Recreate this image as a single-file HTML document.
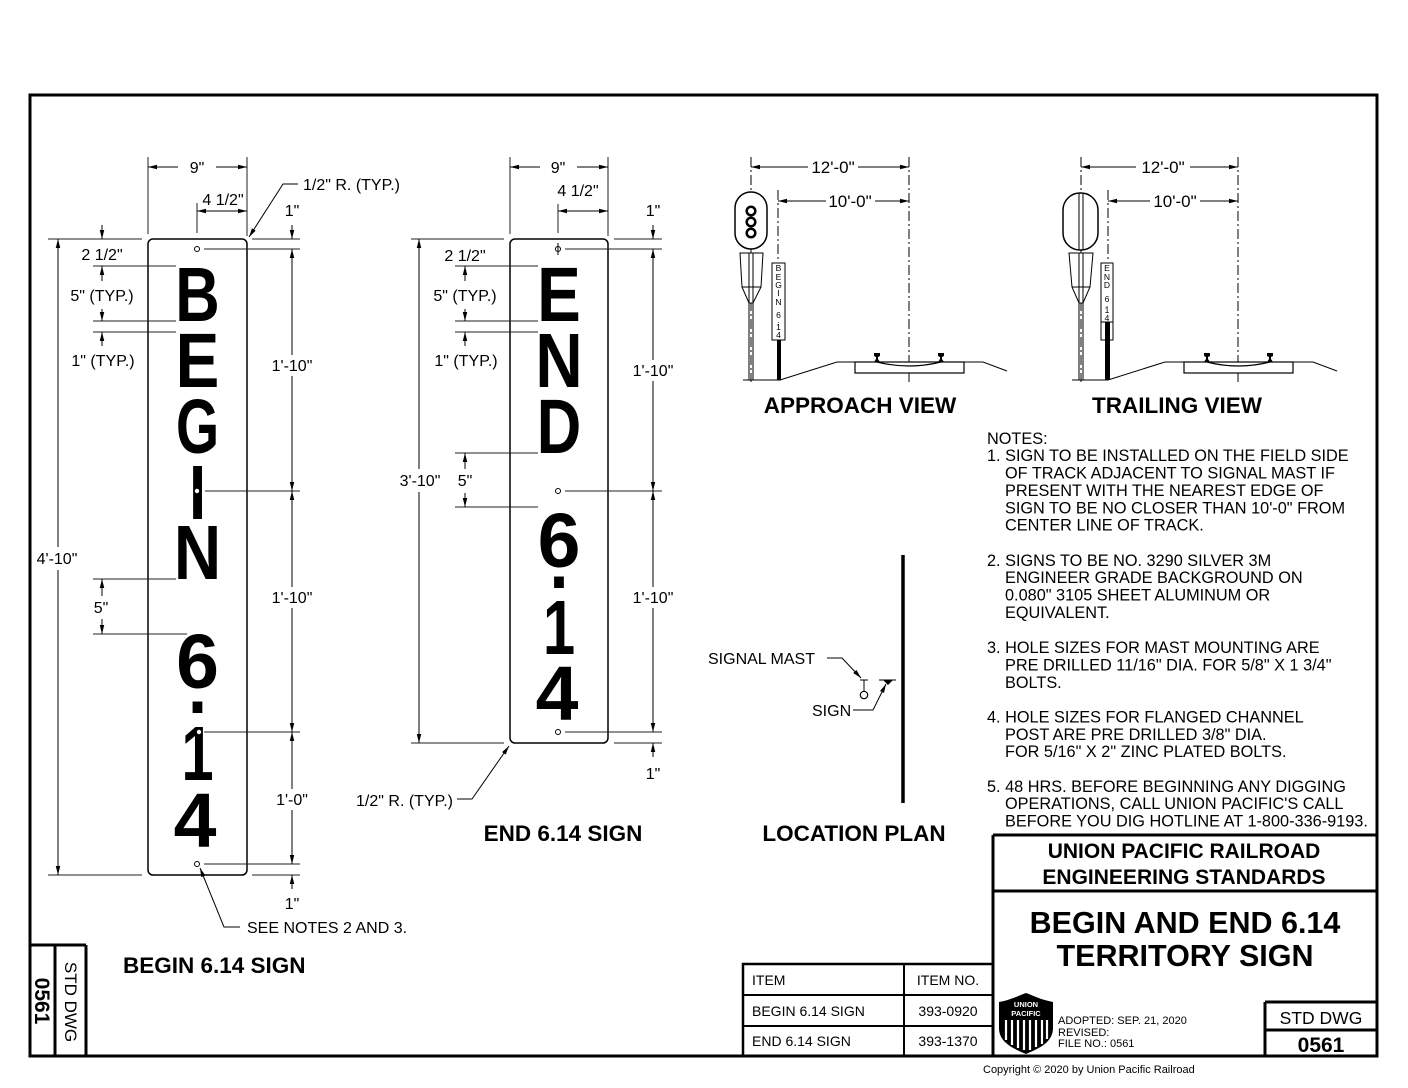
<!DOCTYPE html>
<html><head><meta charset="utf-8"><style>
html,body{margin:0;padding:0;background:#fff;}
svg{display:block;}
text{font-family:"Liberation Sans",Arial,sans-serif;fill:#000;}
.d{font-size:16px;}
.c{text-anchor:middle;}
.b{font-weight:bold;}
.ln{stroke:#000;stroke-width:1;fill:none;}
.ex{stroke:#222;stroke-width:1;fill:none;}
.cl{stroke:#000;stroke-width:1;fill:none;stroke-dasharray:10,3,2,3;}
.big{font-weight:bold;font-size:77px;text-anchor:middle;}
.sm{font-size:8.5px;text-anchor:middle;}
</style></head><body>
<svg width="1408" height="1088" viewBox="0 0 1408 1088" xmlns="http://www.w3.org/2000/svg">
<defs>
<marker id="a" viewBox="0 0 10 5" refX="10" refY="2.5" markerWidth="9" markerHeight="5" markerUnits="userSpaceOnUse" orient="auto-start-reverse"><path d="M0,0L10,2.5L0,5z" fill="#000"/></marker>
</defs>
<rect width="1408" height="1088" fill="#fff"/>
<!-- frame -->
<rect x="30" y="95" width="1347" height="961" fill="none" stroke="#000" stroke-width="3"/>

<!-- ================= BEGIN SIGN ================= -->
<rect x="148" y="239" width="99" height="636" rx="5" fill="none" stroke="#000" stroke-width="1.5"/>
<text class="big" transform="translate(197.5,321) scale(0.8,1)">B</text>
<text class="big" transform="translate(197.5,387) scale(0.85,1)">E</text>
<text class="big" transform="translate(197.5,453) scale(0.72,1)">G</text>
<text class="big" transform="translate(197.5,519) scale(0.8,1)">I</text>
<text class="big" transform="translate(197.5,579) scale(0.85,1)">N</text>
<text class="big" transform="translate(197.5,688) scale(1,1)">6</text>
<text class="big" transform="translate(197.5,713) scale(0.9,1)">.</text>
<text class="big" transform="translate(197.5,780) scale(0.75,1)">1</text>
<text class="big" transform="translate(195,847) scale(1,1)">4</text>
<circle cx="197" cy="249" r="2.5" fill="#fff" stroke="#000" stroke-width="1"/>
<circle cx="197" cy="864" r="2.5" fill="#fff" stroke="#000" stroke-width="1"/>
<circle cx="197" cy="491" r="2.2" fill="#fff"/>
<circle cx="199" cy="732" r="2.2" fill="#fff"/>
<line class="ex" x1="148" y1="157" x2="148" y2="234"/>
<line class="ex" x1="247" y1="157" x2="247" y2="236"/>
<line class="ex" x1="197" y1="203" x2="197" y2="233"/>
<line class="ln" x1="178" y1="167" x2="148" y2="167" marker-end="url(#a)"/>
<line class="ln" x1="216" y1="167" x2="247" y2="167" marker-end="url(#a)"/>
<text class="d c" x="197" y="173">9"</text>
<line class="ln" x1="197" y1="211" x2="247" y2="211" marker-start="url(#a)" marker-end="url(#a)"/>
<text class="d c" x="223" y="205">4 1/2"</text>
<polyline class="ln" points="298,184 283,184 249,237" marker-end="url(#a)"/>
<text class="d" x="303" y="190">1/2" R. (TYP.)</text>
<line class="ex" x1="252" y1="239" x2="300" y2="239"/>
<line class="ex" x1="204" y1="249" x2="300" y2="249"/>
<line class="ex" x1="205" y1="491" x2="300" y2="491"/>
<line class="ex" x1="204" y1="732" x2="300" y2="732"/>
<line class="ex" x1="204" y1="864" x2="300" y2="864"/>
<line class="ex" x1="252" y1="875" x2="300" y2="875"/>
<text class="d c" x="292" y="216">1"</text>
<line class="ln" x1="292" y1="225" x2="292" y2="239" marker-end="url(#a)"/>
<line class="ln" x1="292" y1="355" x2="292" y2="249" marker-end="url(#a)"/>
<line class="ln" x1="292" y1="376" x2="292" y2="491" marker-end="url(#a)"/>
<text class="d c" x="292" y="371">1'-10"</text>
<line class="ln" x1="292" y1="587" x2="292" y2="491" marker-end="url(#a)"/>
<line class="ln" x1="292" y1="608" x2="292" y2="732" marker-end="url(#a)"/>
<text class="d c" x="292" y="603">1'-10"</text>
<line class="ln" x1="292" y1="789" x2="292" y2="732" marker-end="url(#a)"/>
<line class="ln" x1="292" y1="810" x2="292" y2="864" marker-end="url(#a)"/>
<text class="d c" x="292" y="805">1'-0"</text>
<line class="ln" x1="292" y1="889" x2="292" y2="875" marker-end="url(#a)"/>
<text class="d c" x="292" y="909">1"</text>
<line class="ex" x1="48" y1="239" x2="142" y2="239"/>
<line class="ex" x1="48" y1="875" x2="142" y2="875"/>
<line class="ln" x1="58" y1="547" x2="58" y2="239" marker-end="url(#a)"/>
<line class="ln" x1="58" y1="570" x2="58" y2="875" marker-end="url(#a)"/>
<text class="d c" x="57" y="564">4'-10"</text>
<line class="ex" x1="93" y1="266" x2="176" y2="266"/>
<line class="ex" x1="93" y1="321" x2="176" y2="321"/>
<line class="ex" x1="93" y1="332" x2="176" y2="332"/>
<line class="ex" x1="93" y1="579" x2="176" y2="579"/>
<line class="ex" x1="93" y1="634" x2="187" y2="634"/>
<line class="ln" x1="102" y1="225" x2="102" y2="239" marker-end="url(#a)"/>
<text class="d c" x="102" y="260">2 1/2"</text>
<line class="ln" x1="102" y1="281" x2="102" y2="266" marker-end="url(#a)"/>
<line class="ln" x1="102" y1="309" x2="102" y2="321" marker-end="url(#a)"/>
<text class="d c" x="102" y="301">5" (TYP.)</text>
<line class="ln" x1="102" y1="346" x2="102" y2="332" marker-end="url(#a)"/>
<text class="d c" x="103" y="366">1" (TYP.)</text>
<line class="ln" x1="102" y1="596" x2="102" y2="579" marker-end="url(#a)"/>
<line class="ln" x1="102" y1="619" x2="102" y2="634" marker-end="url(#a)"/>
<text class="d c" x="101" y="613">5"</text>
<polyline class="ln" points="240,927 224,927 200,868" marker-end="url(#a)"/>
<text class="d" x="247" y="933">SEE NOTES 2 AND 3.</text>
<text class="b" x="123" y="973" font-size="22.5">BEGIN 6.14 SIGN</text>

<!-- ================= END SIGN ================= -->
<rect x="510" y="239" width="98" height="504" rx="5" fill="none" stroke="#000" stroke-width="1.5"/>
<text class="big" transform="translate(559,321) scale(0.85,1)">E</text>
<text class="big" transform="translate(559,387) scale(0.85,1)">N</text>
<text class="big" transform="translate(559,453) scale(0.8,1)">D</text>
<text class="big" transform="translate(559,567) scale(1,1)">6</text>
<text class="big" transform="translate(559,588) scale(0.9,1)">.</text>
<text class="big" transform="translate(559,654) scale(0.75,1)">1</text>
<text class="big" transform="translate(557,720) scale(1,1)">4</text>
<circle cx="558" cy="249" r="2.5" fill="#fff" stroke="#000" stroke-width="1"/>
<line class="ln" x1="558" y1="243" x2="558" y2="255"/>
<circle cx="558" cy="491" r="2.5" fill="#fff" stroke="#000" stroke-width="1"/>
<circle cx="558" cy="732" r="2.5" fill="#fff" stroke="#000" stroke-width="1"/>
<line class="ex" x1="510" y1="157" x2="510" y2="234"/>
<line class="ex" x1="608" y1="157" x2="608" y2="236"/>
<line class="ex" x1="558" y1="204" x2="558" y2="233"/>
<line class="ln" x1="540" y1="167" x2="510" y2="167" marker-end="url(#a)"/>
<line class="ln" x1="577" y1="167" x2="608" y2="167" marker-end="url(#a)"/>
<text class="d c" x="558" y="173">9"</text>
<line class="ln" x1="558" y1="211" x2="608" y2="211" marker-start="url(#a)" marker-end="url(#a)"/>
<text class="d c" x="578" y="196">4 1/2"</text>
<line class="ex" x1="614" y1="239" x2="662" y2="239"/>
<line class="ex" x1="565" y1="249" x2="662" y2="249"/>
<line class="ex" x1="565" y1="491" x2="662" y2="491"/>
<line class="ex" x1="565" y1="732" x2="662" y2="732"/>
<line class="ex" x1="614" y1="743" x2="662" y2="743"/>
<text class="d c" x="653" y="216">1"</text>
<line class="ln" x1="653" y1="225" x2="653" y2="239" marker-end="url(#a)"/>
<line class="ln" x1="653" y1="360" x2="653" y2="249" marker-end="url(#a)"/>
<line class="ln" x1="653" y1="381" x2="653" y2="491" marker-end="url(#a)"/>
<text class="d c" x="653" y="376">1'-10"</text>
<line class="ln" x1="653" y1="587" x2="653" y2="491" marker-end="url(#a)"/>
<line class="ln" x1="653" y1="608" x2="653" y2="732" marker-end="url(#a)"/>
<text class="d c" x="653" y="603">1'-10"</text>
<line class="ln" x1="653" y1="757" x2="653" y2="743" marker-end="url(#a)"/>
<text class="d c" x="653" y="779">1"</text>
<line class="ex" x1="411" y1="239" x2="504" y2="239"/>
<line class="ex" x1="411" y1="743" x2="504" y2="743"/>
<line class="ln" x1="419" y1="469" x2="419" y2="239" marker-end="url(#a)"/>
<line class="ln" x1="419" y1="492" x2="419" y2="743" marker-end="url(#a)"/>
<text class="d c" x="420" y="486">3'-10"</text>
<line class="ex" x1="455" y1="266" x2="538" y2="266"/>
<line class="ex" x1="455" y1="321" x2="538" y2="321"/>
<line class="ex" x1="455" y1="332" x2="538" y2="332"/>
<line class="ex" x1="455" y1="453" x2="538" y2="453"/>
<line class="ex" x1="455" y1="507" x2="538" y2="507"/>
<text class="d c" x="465" y="261">2 1/2"</text>
<line class="ln" x1="465" y1="281" x2="465" y2="266" marker-end="url(#a)"/>
<line class="ln" x1="465" y1="309" x2="465" y2="321" marker-end="url(#a)"/>
<text class="d c" x="465" y="301">5" (TYP.)</text>
<line class="ln" x1="465" y1="346" x2="465" y2="332" marker-end="url(#a)"/>
<text class="d c" x="466" y="366">1" (TYP.)</text>
<line class="ln" x1="465" y1="469" x2="465" y2="453" marker-end="url(#a)"/>
<line class="ln" x1="465" y1="493" x2="465" y2="507" marker-end="url(#a)"/>
<text class="d c" x="465" y="486">5"</text>
<polyline class="ln" points="457,799 472,799 509,746" marker-end="url(#a)"/>
<text class="d" x="453" y="806" text-anchor="end">1/2" R. (TYP.)</text>
<text class="b c" x="563" y="841" font-size="22.5">END 6.14 SIGN</text>

<!-- ================= APPROACH VIEW ================= -->
<line class="cl" x1="751" y1="157" x2="751" y2="382"/>
<line class="cl" x1="909" y1="157" x2="909" y2="382"/>
<line class="cl" x1="778" y1="190" x2="778" y2="262"/>
<line class="ln" x1="808" y1="167" x2="751" y2="167" marker-end="url(#a)"/>
<line class="ln" x1="858" y1="167" x2="909" y2="167" marker-end="url(#a)"/>
<text class="c" x="833" y="173" font-size="17">12'-0"</text>
<line class="ln" x1="826" y1="201" x2="778" y2="201" marker-end="url(#a)"/>
<line class="ln" x1="875" y1="201" x2="909" y2="201" marker-end="url(#a)"/>
<text class="c" x="850" y="207" font-size="17">10'-0"</text>
<rect x="735" y="192" width="32" height="57" rx="16" fill="#fff" stroke="#000" stroke-width="1.5"/>
<g fill="#fff" stroke="#000" stroke-width="2.5">
<circle cx="751" cy="211" r="4.3"/><circle cx="751" cy="222" r="4.3"/><circle cx="751" cy="233" r="4.3"/>
</g>
<polygon points="740,253 763,253 761,287 753,303 749,303 742,287" fill="#fff" stroke="#000" stroke-width="1"/>
<line class="ln" x1="742" y1="287" x2="761" y2="287"/>
<line class="ln" x1="749" y1="253" x2="749" y2="380"/>
<line class="ln" x1="753" y1="253" x2="753" y2="380"/>
<rect x="772" y="263" width="13" height="77" fill="#fff" stroke="#000" stroke-width="1"/>
<rect x="777" y="340" width="4" height="40" fill="#000"/>
<g class="sm">
<text x="778.5" y="271">B</text><text x="778.5" y="280">E</text><text x="778.5" y="288">G</text><text x="778.5" y="296">I</text><text x="778.5" y="305">N</text>
<text x="778.5" y="318">6</text><text x="778.5" y="323">.</text><text x="778.5" y="330">1</text><text x="778.5" y="338">4</text>
</g>
<polyline class="ln" points="743,380 780,380 837,362 983,362 1007,371" stroke-width="1.2"/>
<rect x="855" y="362" width="109" height="11" fill="#fff" stroke="#000" stroke-width="1.2"/>
<path d="M877,362 Q909,370 941,362" fill="none" stroke="#000" stroke-width="1.2"/>
<path d="M874,362 L880,362 L878,359 L878,357 L880,356 L880,353 L874,353 L874,356 L876,357 L876,359 Z" fill="#000"/>
<path d="M938,362 L944,362 L942,359 L942,357 L944,356 L944,353 L938,353 L938,356 L940,357 L940,359 Z" fill="#000"/>
<text class="b c" x="860" y="413" font-size="22.5">APPROACH VIEW</text>

<!-- ================= TRAILING VIEW ================= -->
<line class="cl" x1="1081" y1="157" x2="1081" y2="382"/>
<line class="cl" x1="1238" y1="157" x2="1238" y2="382"/>
<line class="cl" x1="1108" y1="190" x2="1108" y2="262"/>
<line class="ln" x1="1136" y1="167" x2="1081" y2="167" marker-end="url(#a)"/>
<line class="ln" x1="1190" y1="167" x2="1238" y2="167" marker-end="url(#a)"/>
<text class="c" x="1163" y="173" font-size="17">12'-0"</text>
<line class="ln" x1="1150" y1="201" x2="1108" y2="201" marker-end="url(#a)"/>
<line class="ln" x1="1200" y1="201" x2="1238" y2="201" marker-end="url(#a)"/>
<text class="c" x="1175" y="207" font-size="17">10'-0"</text>
<rect x="1063" y="193" width="35" height="57" rx="17" fill="#fff" stroke="#000" stroke-width="1.5"/>
<line class="ln" x1="1079" y1="193" x2="1079" y2="250"/>
<line class="ln" x1="1083" y1="193" x2="1083" y2="250"/>
<polygon points="1069,253 1093,253 1090,287 1083,303 1079,303 1072,287" fill="#fff" stroke="#000" stroke-width="1"/>
<line class="ln" x1="1072" y1="287" x2="1090" y2="287"/>
<line class="ln" x1="1079" y1="253" x2="1079" y2="380"/>
<line class="ln" x1="1083" y1="253" x2="1083" y2="380"/>
<rect x="1101" y="263" width="12" height="60" fill="#fff" stroke="#000" stroke-width="1"/>
<rect x="1101" y="322" width="12" height="18" fill="#fff" stroke="#000" stroke-width="1"/>
<rect x="1105" y="322" width="5" height="58" fill="#000"/>
<g class="sm">
<text x="1107" y="271">E</text><text x="1107" y="280">N</text><text x="1107" y="288">D</text>
<text x="1107" y="302">6</text><text x="1107" y="307">.</text><text x="1107" y="313">1</text><text x="1107" y="321">4</text>
</g>
<polyline class="ln" points="1072,380 1108,380 1165,362 1313,362 1337,371" stroke-width="1.2"/>
<rect x="1184" y="362" width="109" height="11" fill="#fff" stroke="#000" stroke-width="1.2"/>
<path d="M1207,362 Q1238,370 1270,362" fill="none" stroke="#000" stroke-width="1.2"/>
<path d="M1204,362 L1210,362 L1208,359 L1208,357 L1210,356 L1210,353 L1204,353 L1204,356 L1206,357 L1206,359 Z" fill="#000"/>
<path d="M1267,362 L1273,362 L1271,359 L1271,357 L1273,356 L1273,353 L1267,353 L1267,356 L1269,357 L1269,359 Z" fill="#000"/>
<text class="b c" x="1177" y="413" font-size="22.5">TRAILING VIEW</text>

<!-- ================= NOTES ================= -->
<g font-size="16.3">
<text x="987" y="444">NOTES:</text>
<text x="987" y="461">1. SIGN TO BE INSTALLED ON THE FIELD SIDE</text>
<text x="1005" y="478.5">OF TRACK ADJACENT TO SIGNAL MAST IF</text>
<text x="1005" y="496">PRESENT WITH THE NEAREST EDGE OF</text>
<text x="1005" y="513.5">SIGN TO BE NO CLOSER THAN 10'-0" FROM</text>
<text x="1005" y="530.5">CENTER LINE OF TRACK.</text>
<text x="987" y="566">2. SIGNS TO BE NO. 3290 SILVER 3M</text>
<text x="1005" y="583">ENGINEER GRADE BACKGROUND ON</text>
<text x="1005" y="600.5">0.080" 3105 SHEET ALUMINUM OR</text>
<text x="1005" y="618">EQUIVALENT.</text>
<text x="987" y="653">3. HOLE SIZES FOR MAST MOUNTING ARE</text>
<text x="1005" y="670.5">PRE DRILLED 11/16" DIA. FOR 5/8" X 1 3/4"</text>
<text x="1005" y="688">BOLTS.</text>
<text x="987" y="722.5">4. HOLE SIZES FOR FLANGED CHANNEL</text>
<text x="1005" y="740">POST ARE PRE DRILLED 3/8" DIA.</text>
<text x="1005" y="757">FOR 5/16" X 2" ZINC PLATED BOLTS.</text>
<text x="987" y="792">5. 48 HRS. BEFORE BEGINNING ANY DIGGING</text>
<text x="1005" y="809">OPERATIONS, CALL UNION PACIFIC'S CALL</text>
<text x="1005" y="826.5">BEFORE YOU DIG HOTLINE AT 1-800-336-9193.</text>
</g>

<!-- ================= LOCATION PLAN ================= -->
<line x1="903" y1="555" x2="903" y2="803" stroke="#000" stroke-width="3.5"/>
<line class="ln" x1="860" y1="680" x2="868" y2="680" stroke-width="1.5"/>
<line class="ln" x1="864" y1="680" x2="864" y2="691"/>
<circle cx="864" cy="695" r="3.7" fill="#fff" stroke="#000" stroke-width="1.2"/>
<line class="ln" x1="879" y1="680" x2="896" y2="680" stroke-width="1.5"/>
<polygon points="883,680 893,680 888,685" fill="#000"/>
<polyline class="ln" points="827,658 842,658 861,678" marker-end="url(#a)"/>
<text class="d" x="708" y="664">SIGNAL MAST</text>
<polyline class="ln" points="853,710 873,710 886,684" marker-end="url(#a)"/>
<text class="d" x="812" y="716">SIGN</text>
<text class="b c" x="854" y="841" font-size="22.5">LOCATION PLAN</text>

<!-- ================= TITLE BLOCK ================= -->
<line x1="993" y1="835" x2="993" y2="1056" stroke="#000" stroke-width="3"/>
<line x1="993" y1="835" x2="1377" y2="835" stroke="#000" stroke-width="3"/>
<line x1="993" y1="891" x2="1377" y2="891" stroke="#000" stroke-width="3"/>
<text class="b c" x="1184" y="858" font-size="21">UNION PACIFIC RAILROAD</text>
<text class="b c" x="1184" y="884" font-size="21">ENGINEERING STANDARDS</text>
<text class="b c" x="1185" y="933" font-size="30.5">BEGIN AND END 6.14</text>
<text class="b c" x="1185" y="966" font-size="30.5">TERRITORY SIGN</text>
<line x1="1265" y1="1002" x2="1265" y2="1056" stroke="#000" stroke-width="3"/>
<line x1="1265" y1="1002" x2="1377" y2="1002" stroke="#000" stroke-width="3"/>
<line x1="1265" y1="1030" x2="1377" y2="1030" stroke="#000" stroke-width="3"/>
<text class="c" x="1321" y="1024" font-size="17.5">STD DWG</text>
<text class="b c" x="1321" y="1052" font-size="21">0561</text>
<path d="M999,1002 C1010,1000 1018,996 1026,993 C1034,996 1042,1000 1053,1002 L1053,1028 C1053,1042 1040,1048 1026,1054 C1012,1048 999,1042 999,1028 Z" fill="#000"/>
<text class="b c" x="1026" y="1007" font-size="7.5" style="fill:#fff">UNION</text>
<text class="b c" x="1026" y="1016" font-size="7.5" style="fill:#fff">PACIFIC</text>
<g stroke="#fff" stroke-width="2.2">
<line x1="1006" y1="1020" x2="1006" y2="1040"/><line x1="1012" y1="1020" x2="1012" y2="1045"/><line x1="1018" y1="1020" x2="1018" y2="1048"/><line x1="1024" y1="1020" x2="1024" y2="1050"/><line x1="1030" y1="1020" x2="1030" y2="1050"/><line x1="1036" y1="1020" x2="1036" y2="1047"/><line x1="1042" y1="1020" x2="1042" y2="1044"/><line x1="1047" y1="1020" x2="1047" y2="1039"/>
</g>
<text x="1058" y="1024" font-size="11">ADOPTED: SEP. 21, 2020</text>
<text x="1058" y="1036" font-size="11">REVISED:</text>
<text x="1058" y="1047" font-size="11">FILE NO.: 0561</text>
<text x="983" y="1073" font-size="11">Copyright © 2020 by Union Pacific Railroad</text>

<rect x="743" y="964" width="250" height="92" fill="none" stroke="#000" stroke-width="2.5"/>
<line x1="743" y1="995" x2="993" y2="995" stroke="#000" stroke-width="2"/>
<line x1="743" y1="1026" x2="993" y2="1026" stroke="#000" stroke-width="2"/>
<line x1="904" y1="964" x2="904" y2="1056" stroke="#000" stroke-width="2"/>
<g font-size="14">
<text x="752" y="985">ITEM</text>
<text x="948" y="985" text-anchor="middle">ITEM NO.</text>
<text x="752" y="1016">BEGIN 6.14 SIGN</text>
<text x="948" y="1016" text-anchor="middle">393-0920</text>
<text x="752" y="1046">END 6.14 SIGN</text>
<text x="948" y="1046" text-anchor="middle">393-1370</text>
</g>

<line x1="30" y1="945" x2="86" y2="945" stroke="#000" stroke-width="3"/>
<line x1="86" y1="945" x2="86" y2="1056" stroke="#000" stroke-width="3"/>
<line x1="55" y1="945" x2="55" y2="1056" stroke="#000" stroke-width="3"/>
<text class="b c" font-size="21" x="0" y="7.5" transform="translate(42.5,1001) rotate(90)">0561</text>
<text class="c" font-size="17" x="0" y="6" transform="translate(71,1002) rotate(90)">STD DWG</text>
</svg>
</body></html>
